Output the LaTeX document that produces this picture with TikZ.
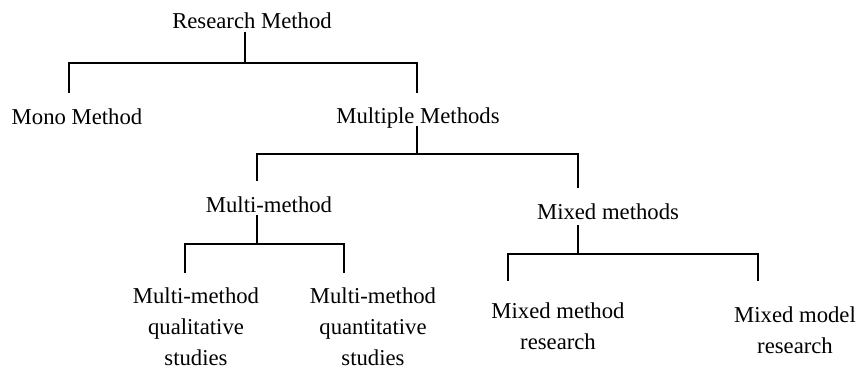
\documentclass[tikz,border=0pt]{standalone}
\usepackage{fontspec}
\setmainfont{Liberation Serif}
\begin{document}
\begin{tikzpicture}[x=1pt,y=-1pt,
  lbl/.style={inner sep=0pt, anchor=base, align=center,
    font=\fontsize{22.7}{31}\selectfont},
  conn/.style={line width=1.9pt, line cap=rect}]
\useasboundingbox (0,0) rectangle (858,369);

% labels (base anchor = baseline of the last line)
\node[lbl] (rm)   at (252,29)  {Research Method};
\node[lbl] (mono) at (77,124)  {Mono Method};
\node[lbl] (mult) at (418,123) {Multiple Methods};
\node[lbl] (mm)   at (269,212) {Multi-method};
\node[lbl] (mix)  at (608,219) {Mixed methods};
\node[lbl] (qual) at (196,365) {Multi-method\\qualitative\\studies};
\node[lbl] (quan) at (373,365) {Multi-method\\quantitative\\studies};
\node[lbl] (mmr)  at (558,349) {Mixed method\\research};
\node[lbl] (mdr)  at (795,353) {Mixed model\\research};

% junction points of the brackets
\coordinate (a0) at (245,33);  \coordinate (a1) at (245,63);
\coordinate (al) at (69,92);   \coordinate (ar) at (417,92);
\coordinate (b0) at (417,127); \coordinate (b1) at (417,154);
\coordinate (bl) at (257,180); \coordinate (br) at (578,187);
\coordinate (c0) at (257,216); \coordinate (c1) at (257,244);
\coordinate (cl) at (185,272); \coordinate (cr) at (344,272);
\coordinate (d0) at (578,226); \coordinate (d1) at (578,254);
\coordinate (dl) at (508,280); \coordinate (dr) at (758,280);

% Research Method -> Mono / Multiple
\draw[conn] (a0) -- (a1);
\draw[conn] (al) |- (a1) -| (ar);
% Multiple Methods -> Multi-method / Mixed methods
\draw[conn] (b0) -- (b1);
\draw[conn] (bl) |- (b1) -| (br);
% Multi-method -> qualitative / quantitative
\draw[conn] (c0) -- (c1);
\draw[conn] (cl) |- (c1) -| (cr);
% Mixed methods -> method / model research
\draw[conn] (d0) -- (d1);
\draw[conn] (dl) |- (d1) -| (dr);
\end{tikzpicture}
\end{document}
